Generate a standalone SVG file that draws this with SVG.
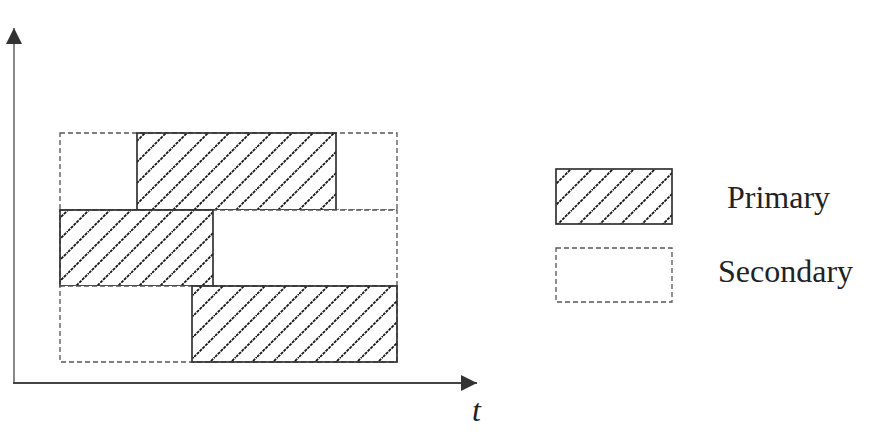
<svg xmlns="http://www.w3.org/2000/svg" width="869" height="448" viewBox="0 0 869 448">
<style>
.sec{fill:#fff;stroke:#555;stroke-width:1.3;stroke-dasharray:5 3}
.pri{fill:url(#hatch);stroke:#333;stroke-width:1.7}
.lbl{font-family:"Liberation Serif","Times New Roman",serif;font-size:32px;fill:#222}
.axis{stroke-width:2;fill:none}
</style>
<defs>
<pattern id="hatch" patternUnits="userSpaceOnUse" width="21" height="21" patternTransform="translate(5,0)">
<path d="M-5.25,5.25 L5.25,-5.25 M0,21 L21,0 M15.75,26.25 L26.25,15.75" stroke="#151515" stroke-width="1.8" stroke-dasharray="3 1"/>
</pattern>
<marker id="arr" viewBox="0 0 16 16" refX="16" refY="8" markerWidth="16" markerHeight="16" markerUnits="userSpaceOnUse" orient="auto">
<path d="M0,0 L16,8 L0,16 Z" fill="#333"/>
</marker>
</defs>
<g id="connectors">
<line class="axis" x1="14" y1="384" x2="14" y2="28" stroke="#888" marker-end="url(#arr)"/>
<line class="axis" x1="13" y1="383" x2="477" y2="383" stroke="#444" marker-end="url(#arr)"/>
</g>
<g id="row1">
<rect class="sec" x="60" y="133" width="337" height="77"/>
<rect class="pri" x="137" y="133" width="199" height="77"/>
</g>
<g id="row2">
<rect class="sec" x="60" y="210" width="337" height="76"/>
<rect class="pri" x="60" y="210" width="153" height="76"/>
</g>
<g id="row3">
<rect class="sec" x="60" y="286" width="337" height="76"/>
<rect class="pri" x="192" y="286" width="205" height="76"/>
</g>
<g id="legend-primary">
<rect class="pri" x="556" y="169" width="116" height="55"/>
<text class="lbl" x="727" y="208">Primary</text>
</g>
<g id="legend-secondary">
<rect class="sec" x="556" y="248" width="116" height="54"/>
<text class="lbl" x="718" y="282">Secondary</text>
</g>
<g id="axis-label">
<text class="lbl" x="472" y="421" font-style="italic" font-size="30">t</text>
</g>
</svg>
